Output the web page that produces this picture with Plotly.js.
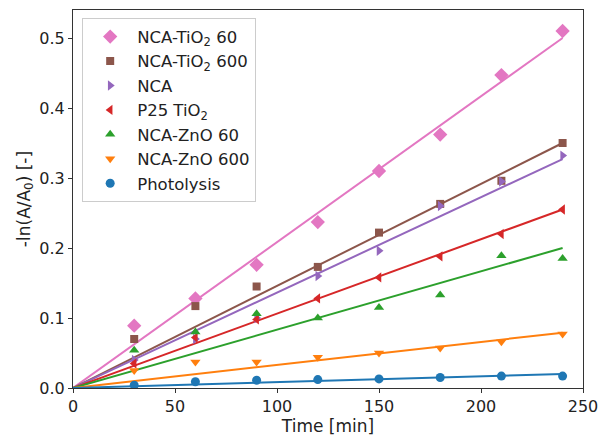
<!DOCTYPE html>
<html><head><meta charset="utf-8">
<script src="https://cdn.plot.ly/plotly-3.0.1.min.js"></script>
<style>body{margin:0;background:#fff}#c{width:600px;height:437px}</style>
</head><body><div id="c"></div>
<script>
const time = [30, 60, 90, 120, 150, 180, 210, 240];
const fitX = [0, 240];
const names = ["NCA-TiO<sub>2</sub> 60", "NCA-TiO<sub>2</sub> 600", "NCA", "P25 TiO<sub>2</sub>", "NCA-ZnO 60", "NCA-ZnO 600", "Photolysis"];
const ncaTiO2_60  = [0.089, 0.128, 0.176, 0.237, 0.310, 0.362, 0.447, 0.510];
const ncaTiO2_600 = [0.070, 0.117, 0.145, 0.173, 0.222, 0.263, 0.296, 0.350];
const nca         = [0.040, 0.070, 0.100, 0.160, 0.196, 0.260, 0.295, 0.332];
const p25TiO2     = [0.035, 0.072, 0.098, 0.128, 0.158, 0.188, 0.220, 0.255];
const ncaZnO_60   = [0.054, 0.080, 0.106, 0.100, 0.115, 0.133, 0.189, 0.185];
const ncaZnO_600  = [0.025, 0.037, 0.037, 0.044, 0.050, 0.057, 0.066, 0.077];
const photolysis  = [0.004, 0.009, 0.011, 0.012, 0.013, 0.015, 0.017, 0.017];
const fitEnd = [0.500, 0.350, 0.327, 0.255, 0.200, 0.079, 0.020];

const series = [ncaTiO2_60, ncaTiO2_600, nca, p25TiO2, ncaZnO_60, ncaZnO_600, photolysis];
const colors = ["#e377c2", "#8c564b", "#9467bd", "#d62728", "#2ca02c", "#ff7f0e", "#1f77b4"];
const symbols = ["diamond", "square", "triangle-right", "triangle-left", "triangle-up", "triangle-down", "circle"];
const sizes = [11, 8, 9, 9, 9, 9, 9];

const traces = [];
series.forEach((s, i) => {
  traces.push({x: fitX, y: [0, fitEnd[i]], mode: "lines", showlegend: false,
    line: {color: colors[i], width: 2}, hoverinfo: "skip"});
});
series.forEach((s, i) => {
  traces.push({x: time, y: s, mode: "markers", name: names[i],
    marker: {color: colors[i], symbol: symbols[i], size: sizes[i]}});
});

const layout = {
  width: 600, height: 437,
  margin: {l: 73, r: 17, t: 10, b: 49},
  paper_bgcolor: "#fff", plot_bgcolor: "#fff",
  font: {family: "DejaVu Sans", size: 16, color: "#222"},
  showlegend: true,
  legend: {x: 0.018, y: 0.978, xanchor: "left", yanchor: "top",
    bgcolor: "rgba(255,255,255,0.9)", bordercolor: "#ccc", borderwidth: 1,
    font: {size: 16.5, family: "DejaVu Sans"}, tracegroupgap: 0, itemwidth: 44},
  xaxis: {range: [0, 250], tickvals: [0, 50, 100, 150, 200, 250],
    showgrid: false, zeroline: false, showline: true, mirror: true,
    linecolor: "#333", linewidth: 1, ticks: "outside", ticklen: 4, tickcolor: "#333",
    tickfont: {size: 16},
    title: {text: "Time [min]", standoff: 2, font: {size: 17}}},
  yaxis: {range: [0, 0.54], tickvals: [0, 0.1, 0.2, 0.3, 0.4, 0.5],
    ticktext: ["0.0", "0.1", "0.2", "0.3", "0.4", "0.5"],
    showgrid: false, zeroline: false, showline: true, mirror: true,
    linecolor: "#333", linewidth: 1, ticks: "outside", ticklen: 4, tickcolor: "#333",
    tickfont: {size: 16},
    title: {text: "-ln(A/A<sub>0</sub>) [-]", standoff: 4, font: {size: 17}}}
};
Plotly.newPlot("c", traces, layout, {displayModeBar: false, staticPlot: true});
</script></body></html>
